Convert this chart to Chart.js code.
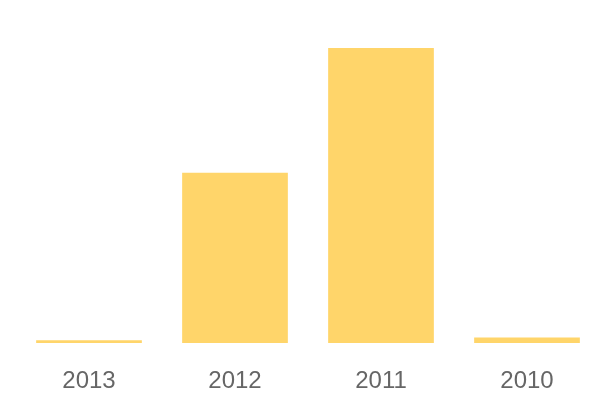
<!DOCTYPE html>
<html>
<head>
<meta charset="utf-8">
<script src="https://cdn.jsdelivr.net/npm/chart.js@4"></script>
<style>
  html, body { margin: 0; padding: 0; background: #fff; }
  #wrap { width: 600px; height: 400px; }
</style>
</head>
<body>
<div id="wrap"><canvas id="chart"></canvas></div>
<script>
const years = ['2013', '2012', '2011', '2010'];
const values = [0.9, 57.7, 100, 1.9];

new Chart(document.getElementById('chart'), {
  type: 'bar',
  data: {
    labels: years,
    datasets: [{
      data: values,
      backgroundColor: '#FFD56A',
      borderWidth: 0,
      barPercentage: 1,
      categoryPercentage: 0.724,
    }],
  },
  options: {
    responsive: true,
    maintainAspectRatio: false,
    animation: false,
    layout: { padding: { top: 48, left: 16, right: 0, bottom: 0 } },
    plugins: { legend: { display: false }, tooltip: { enabled: false } },
    scales: {
      x: {
        grid: { display: false, drawTicks: false },
        border: { display: false },
        ticks: { color: '#666', padding: 24, font: { family: 'Liberation Sans', size: 24 } },
        afterFit: (axis) => { axis.height = 57; },
      },
      y: {
        display: false,
        min: 0,
        max: 100,
      },
    },
  },
});
</script>
</body>
</html>
